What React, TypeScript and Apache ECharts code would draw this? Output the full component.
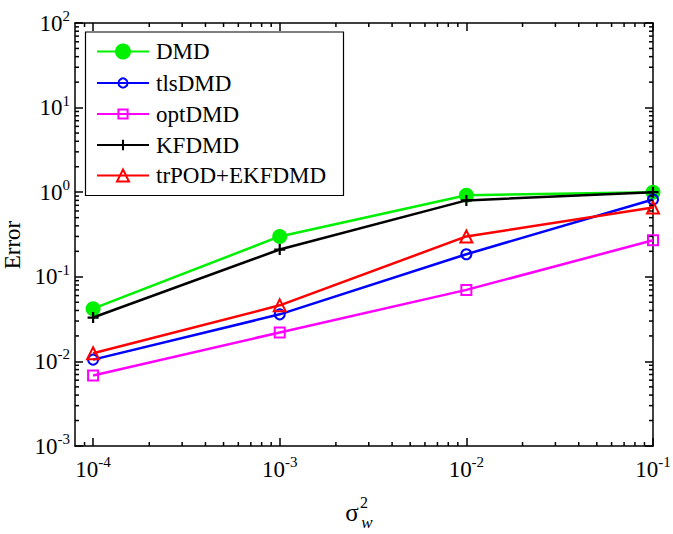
import React, { useEffect, useRef } from "react";
import * as echarts from "echarts";

// ---- data ----
const xValues = [1e-4, 1e-3, 1e-2, 1e-1];
const dmd = [0.042, 0.3, 0.92, 1.0];
const tlsDmd = [0.0105, 0.036, 0.185, 0.82];
const optDmd = [0.0068, 0.022, 0.07, 0.27];
const kfDmd = [0.033, 0.21, 0.8, 1.0];
const trPodEkfDmd = [0.0125, 0.046, 0.3, 0.66];
const seriesNames = ["DMD", "tlsDMD", "optDMD", "KFDMD", "trPOD+EKFDMD"];

// ---- axes ----
const xMin = 8e-5;
const xMax = 1e-1;
const yMin = 1e-3;
const yMax = 1e2;
const xMajorTicks = [1e-4, 1e-3, 1e-2, 1e-1];
const yMajorTicks = [1e-3, 1e-2, 1e-1, 1, 10, 100];
const minorMultipliers = [2, 3, 4, 5, 6, 7, 8, 9];
const xMinorDecades = [1e-4, 1e-3, 1e-2];
const yMinorDecades = [1e-3, 1e-2, 1e-1, 1, 10];
const xMinorTicks = [9e-5].concat(
  ...xMinorDecades.map((d) => minorMultipliers.map((m) => m * d))
);
const yMinorTicks = ([] as number[]).concat(
  ...yMinorDecades.map((d) => minorMultipliers.map((m) => m * d))
);

const FONT = "Liberation Serif";

const powLabel = (v: number) => {
  const e = Math.round(Math.log10(v));
  return `{b|10}{s|${e}}`;
};

const labelRich = {
  b: { fontFamily: FONT, fontSize: 23, color: "#000", lineHeight: 22 },
  s: {
    fontFamily: FONT,
    fontSize: 15,
    color: "#000",
    lineHeight: 15,
    padding: [0, 0, 14, 0],
  },
};

function majorAxis(kind: "x" | "y", position: string, showLabels: boolean) {
  const isX = kind === "x";
  return {
    type: "log",
    logBase: 10,
    min: isX ? xMin : yMin,
    max: isX ? xMax : yMax,
    position,
    axisLine: { show: true, lineStyle: { color: "#000", width: 1.5 } },
    axisTick: {
      show: true,
      inside: true,
      length: 8,
      lineStyle: { color: "#000", width: 1.5 },
      customValues: isX ? xMajorTicks : yMajorTicks,
    },
    minorTick: { show: false },
    splitLine: { show: false },
    axisLabel: {
      show: showLabels,
      customValues: isX ? xMajorTicks : yMajorTicks,
      formatter: powLabel,
      rich: labelRich,
      margin: isX ? 12 : 5,
    },
  };
}

const colors = ["#00f000", "#0000ff", "#ff00ff", "#000000", "#ff0000"];
const values = [dmd, tlsDmd, optDmd, kfDmd, trPodEkfDmd];
const plusPath = "path://M4,0H6V10H4ZM0,4H10V6H0Z";

// legend layout (one legend per entry so each marker keeps its own size)
const legendCenters = [51, 82.5, 113.5, 144.5, 175];
const legendItemHeights = [20, 11.5, 11.5, 13, 15];

const MINOR_LEN = 4;

export default function App() {
  const ref = useRef<HTMLDivElement>(null);
  useEffect(() => {
    if (!ref.current) return;
    const chart = echarts.init(ref.current, undefined, { renderer: "svg" });
    const symbolCfg = [
      { symbol: "circle", symbolSize: 15, itemStyle: { color: colors[0] } },
      {
        symbol: "circle",
        symbolSize: 10,
        itemStyle: { color: "rgba(255,255,255,0)", borderColor: colors[1], borderWidth: 2 },
      },
      {
        symbol: "rect",
        symbolSize: 10,
        itemStyle: { color: "rgba(255,255,255,0)", borderColor: colors[2], borderWidth: 2 },
      },
      { symbol: plusPath, symbolSize: 11, itemStyle: { color: colors[3] } },
      {
        symbol: "triangle",
        symbolSize: 12,
        itemStyle: { color: "rgba(255,255,255,0)", borderColor: colors[4], borderWidth: 2 },
      },
    ];
    const series: any[] = seriesNames.map((name, i) => ({
      name,
      type: "line",
      data: xValues.map((x, j) => [x, values[i][j]]),
      lineStyle: { color: colors[i], width: 2.5 },
      ...symbolCfg[i],
      z: 2 + i,
      silent: true,
    }));

    // minor ticks drawn through the axes' own scales
    const tickStyle = { stroke: "#000", lineWidth: 1.5 };
    series.push({
      type: "custom",
      silent: true,
      clip: false,
      z: 20,
      data: xMinorTicks.map((v) => [v, yMin]),
      renderItem: (params: any, api: any) => {
        const v = api.value(0);
        const pb = api.coord([v, yMin]);
        const pt = api.coord([v, yMax]);
        return {
          type: "group",
          children: [
            { type: "line", shape: { x1: pb[0], y1: pb[1], x2: pb[0], y2: pb[1] - MINOR_LEN }, style: tickStyle },
            { type: "line", shape: { x1: pt[0], y1: pt[1], x2: pt[0], y2: pt[1] + MINOR_LEN }, style: tickStyle },
          ],
        };
      },
    });
    series.push({
      type: "custom",
      silent: true,
      clip: false,
      z: 20,
      data: yMinorTicks.map((v) => [xMin, v]),
      renderItem: (params: any, api: any) => {
        const v = api.value(1);
        const pl = api.coord([xMin, v]);
        const pr = api.coord([xMax, v]);
        return {
          type: "group",
          children: [
            { type: "line", shape: { x1: pl[0], y1: pl[1], x2: pl[0] + MINOR_LEN, y2: pl[1] }, style: tickStyle },
            { type: "line", shape: { x1: pr[0], y1: pr[1], x2: pr[0] - MINOR_LEN, y2: pr[1] }, style: tickStyle },
          ],
        };
      },
    });

    const legends = seriesNames.map((name, i) => ({
      data: [name],
      orient: "vertical",
      left: 96,
      top: legendCenters[i] - 11,
      itemWidth: 52,
      itemHeight: legendItemHeights[i],
      padding: 0,
      selectedMode: false,
      formatter: (n: string) => `{a|${n}}`,
      textStyle: {
        fontFamily: FONT,
        fontSize: 23,
        color: "#000",
        lineHeight: 22,
        padding: [0, 0, 0, 2],
        rich: { a: { fontFamily: FONT, fontSize: 23, color: "#000", lineHeight: 22 } },
      },
      z: 40,
    }));

    chart.setOption({
      animation: false,
      backgroundColor: "#fff",
      textStyle: { fontFamily: FONT, color: "#000" },
      grid: { left: 75, right: 20, top: 23, bottom: 88, outerBoundsMode: "none" },
      xAxis: [majorAxis("x", "bottom", true), majorAxis("x", "top", false)],
      yAxis: [majorAxis("y", "left", true), majorAxis("y", "right", false)],
      legend: legends,
      graphic: [
        {
          type: "rect",
          z: 30,
          shape: { x: 85.5, y: 32, width: 258, height: 163.5 },
          style: { fill: "#fff", stroke: "#000", lineWidth: 1.2 },
        },
        {
          type: "text",
          x: 12,
          y: 245,
          rotation: Math.PI / 2,
          style: {
            text: "Error",
            fontFamily: FONT,
            fontSize: 23,
            fill: "#000",
            align: "center",
            verticalAlign: "middle",
          },
        },
        {
          type: "text",
          x: 352,
          y: 512,
          style: {
            text: "σ",
            fontFamily: FONT,
            fontSize: 25,
            fill: "#000",
            align: "center",
            verticalAlign: "middle",
          },
        },
        {
          type: "text",
          x: 364,
          y: 502,
          style: {
            text: "2",
            fontFamily: FONT,
            fontSize: 16,
            fill: "#000",
            align: "center",
            verticalAlign: "middle",
          },
        },
        {
          type: "text",
          x: 367,
          y: 522,
          style: {
            text: "w",
            fontFamily: FONT,
            fontSize: 17,
            fontStyle: "italic",
            fill: "#000",
            align: "center",
            verticalAlign: "middle",
          },
        },
      ],
      series,
    });
    return () => chart.dispose();
  }, []);
  return (
    <div
      ref={ref}
      style={{ position: "fixed", left: 0, top: 0, width: 673, height: 534, background: "#fff" }}
    />
  );
}
